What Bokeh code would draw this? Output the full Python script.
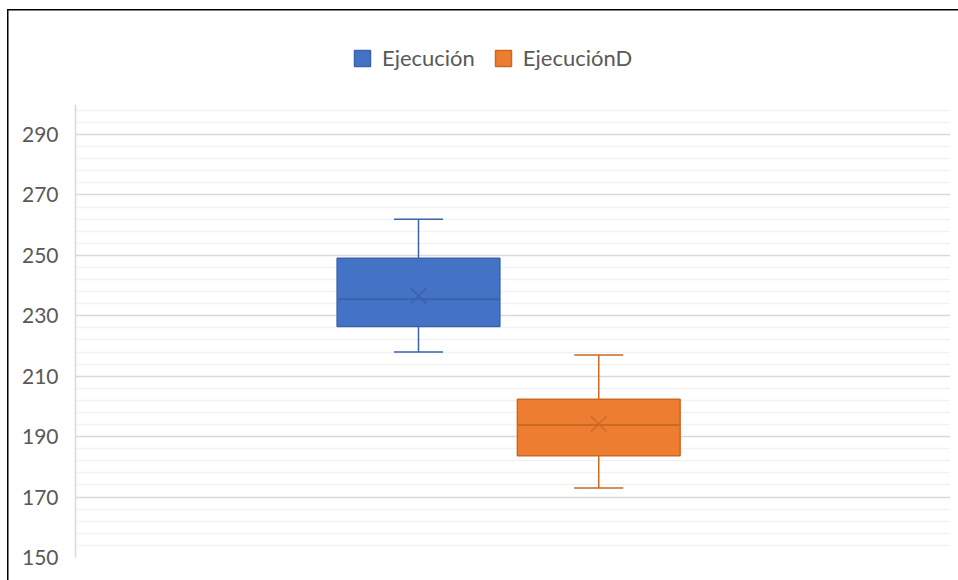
from bokeh.plotting import figure
from bokeh.models import (Range1d, FixedTicker, Legend, LegendItem, ColumnDataSource)
from bokeh.core.properties import value
from bokeh.embed import file_html
from bokeh.resources import INLINE

# Box-and-whisker statistics per series
series = ["Ejecución", "EjecuciónD"]
lower_whisker = [218.0, 173.0]
q1 = [226.5, 183.7]
median = [235.5, 193.9]
q3 = [249.1, 202.4]
upper_whisker = [262.0, 217.0]
mean = [236.6, 194.2]

# y-axis tick labels
y_ticks = [150, 170, 190, 210, 230, 250, 270, 290]
y_min, y_max = 150, 300

fill_colors = ["#4472C4", "#ED7D31"]
line_colors = ["#3A63AE", "#CB6822"]

# horizontal placement of the two boxes inside the single category (0..1)
centers = [0.392, 0.598]
box_width = 0.186
cap_half = 0.028

src = ColumnDataSource(dict(
    series=series, lower=lower_whisker, q1=q1, median=median, q3=q3,
    upper=upper_whisker, mean=mean, x=centers,
    x0=[c - box_width / 2 for c in centers], x1=[c + box_width / 2 for c in centers],
    c0=[c - cap_half for c in centers], c1=[c + cap_half for c in centers],
    fill=fill_colors, line=line_colors,
))

# the frame also holds the legend strip above the value area, so the range
# runs past y_max; axis line and grid stop at y_max
p = figure(width=958, height=580, output_backend="svg", toolbar_location=None,
           x_range=Range1d(0, 1), y_range=Range1d(y_min, 324.45),
           min_border_left=75, min_border_right=8, min_border_top=30,
           min_border_bottom=23)
p.outline_line_color = None
p.background_fill_alpha = 0
p.border_fill_alpha = 0
# thin black chart border along the top and left edges (layered inset shadows)
p.styles = {
    "background-color": "white",
    "box-shadow": "inset 7px 9px 0 0 white, inset 8.5px 10.5px 0 0 black",
}

# axes and grid
p.xaxis.visible = False
p.xgrid.visible = False
minor = [t for t in range(154, y_max, 4) if (t - y_min) % 20 != 0]
p.yaxis.ticker = FixedTicker(ticks=y_ticks, minor_ticks=minor)
p.yaxis.bounds = (y_min, y_max)
p.yaxis.axis_line_color = "#D9D9D9"
p.yaxis.axis_line_width = 1.5
p.yaxis.major_tick_line_color = None
p.yaxis.minor_tick_line_color = None
p.yaxis.major_label_standoff = 11
p.yaxis.major_label_text_font = "Lato"
p.yaxis.major_label_text_font_size = "21px"
p.yaxis.major_label_text_color = "#595959"
p.ygrid.grid_line_color = "#D9D9D9"
p.ygrid.grid_line_width = 1.5
p.ygrid.minor_grid_line_color = "#F2F2F2"
p.ygrid.minor_grid_line_width = 1.5

# whiskers
p.segment(x0="x", x1="x", y0="q3", y1="upper", line_color="line", line_width=1.5, source=src)
p.segment(x0="x", x1="x", y0="q1", y1="lower", line_color="line", line_width=1.5, source=src)
p.segment(x0="c0", x1="c1", y0="upper", y1="upper", line_color="line", line_width=1.5, source=src)
p.segment(x0="c0", x1="c1", y0="lower", y1="lower", line_color="line", line_width=1.5, source=src)

# boxes
boxes = p.vbar(x="x", width=box_width, bottom="q1", top="q3", fill_color="fill",
               line_color="line", line_width=1.5, source=src)

# median line and mean marker
p.segment(x0="x0", x1="x1", y0="median", y1="median", line_color="line", line_width=2, source=src)
p.scatter(x="x", y="mean", marker="x", size=22, line_color="line", line_width=1.6,
          line_alpha=0.9, source=src)

legend = Legend(
    items=[LegendItem(label=value(s), renderers=[boxes], index=i) for i, s in enumerate(series)],
    orientation="horizontal", location=(277, 486),
    glyph_width=20, glyph_height=20, label_standoff=10, spacing=18,
    padding=0, margin=0, border_line_color=None, background_fill_alpha=0,
    label_text_font="Lato", label_text_font_size="22px", label_text_color="#595959",
)
p.add_layout(legend, "center")

open("out.html", "w").write(file_html(p, INLINE))
